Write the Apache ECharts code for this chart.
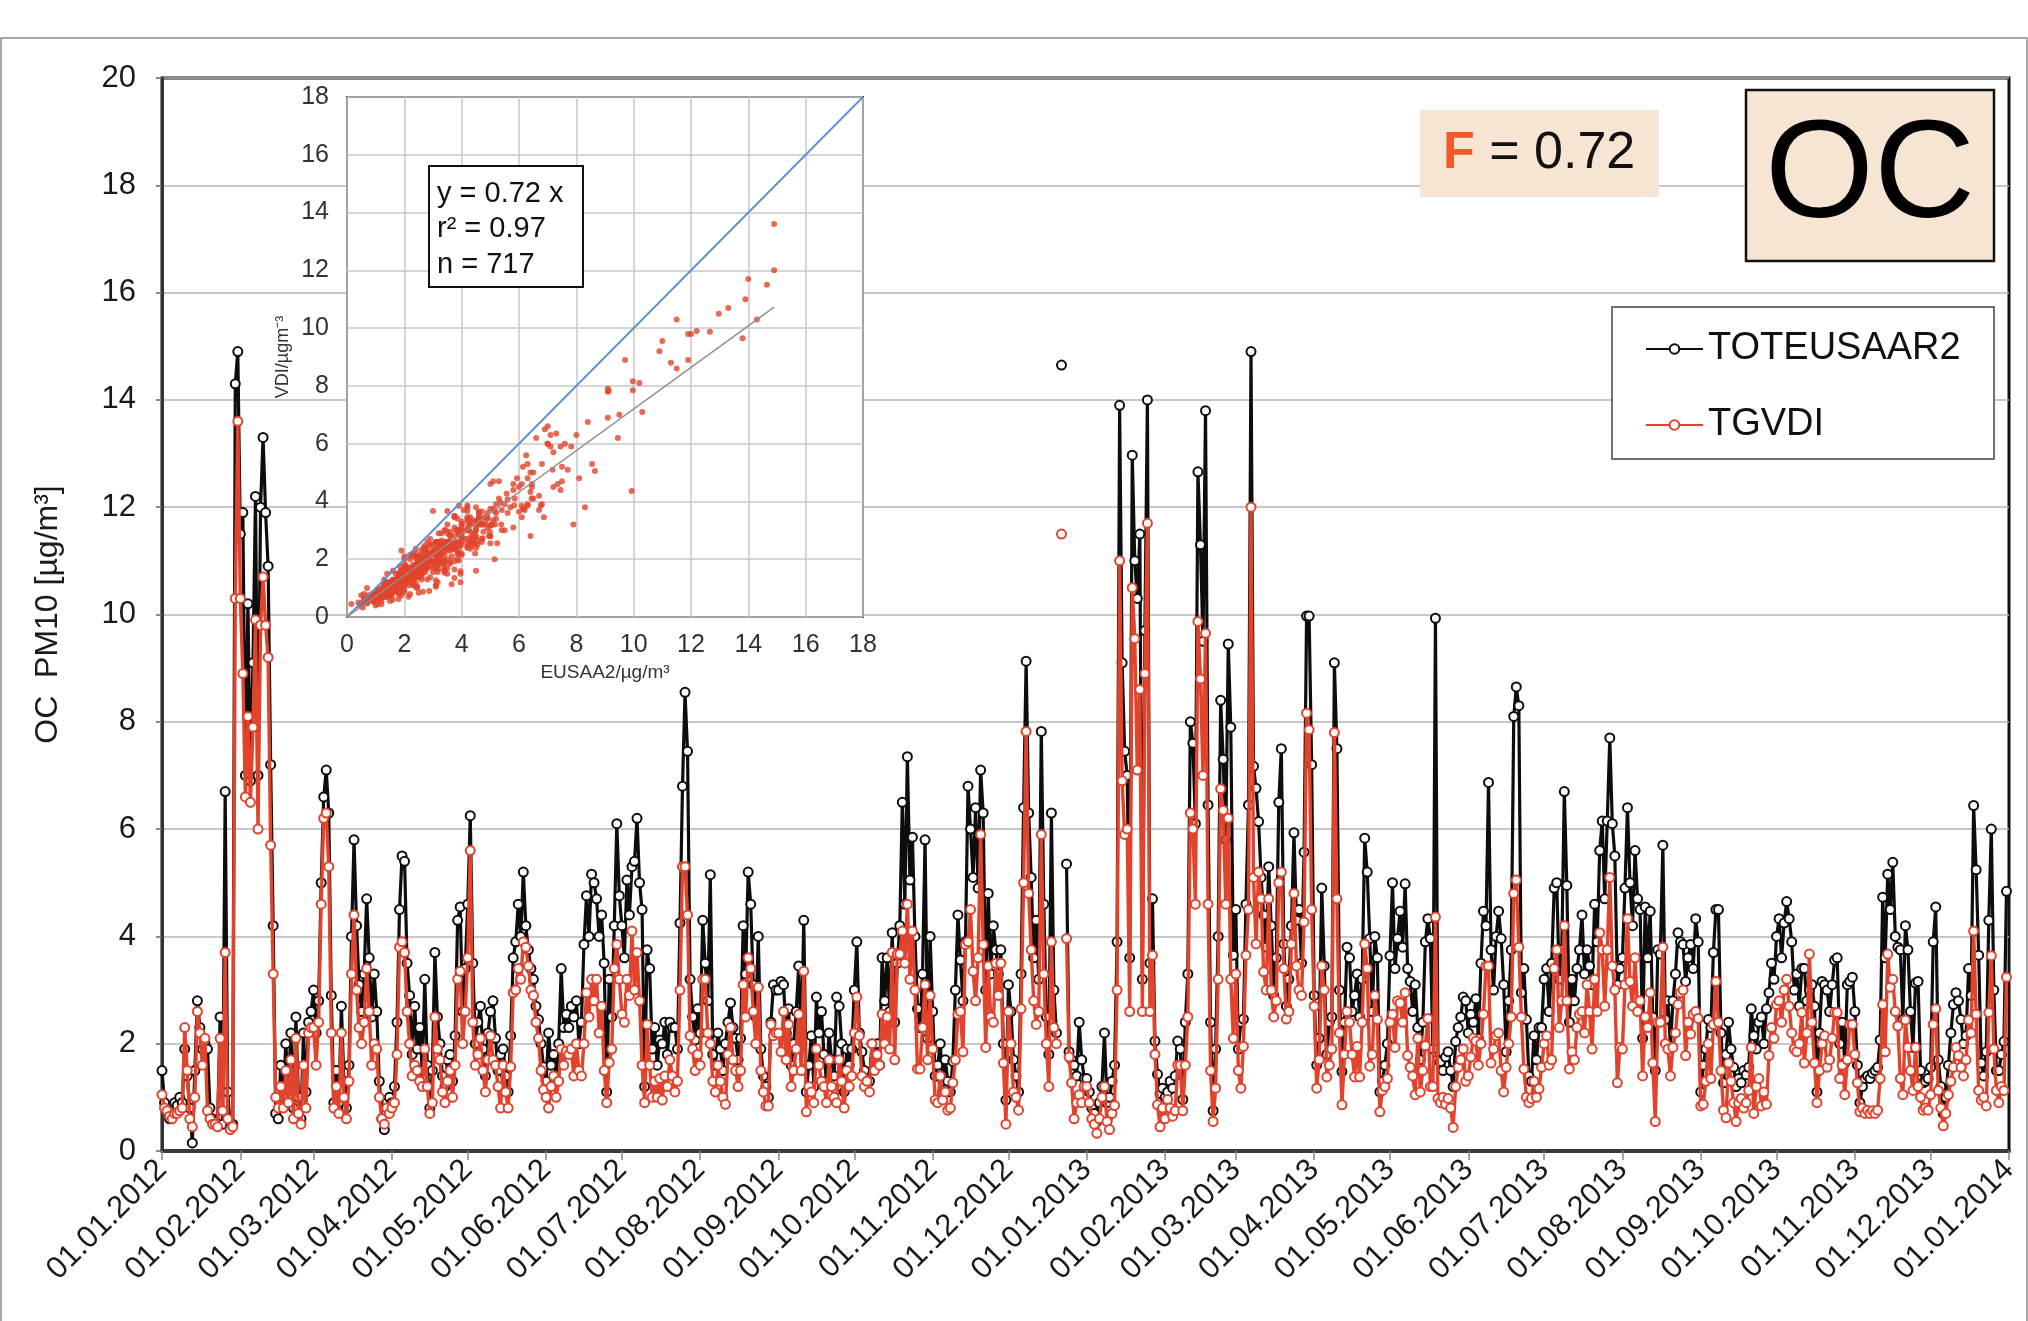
<!DOCTYPE html>
<html><head><meta charset="utf-8">
<script src="https://cdn.jsdelivr.net/npm/echarts@6/dist/echarts.min.js"></script>
<style>html,body{margin:0;padding:0;background:#fff}#c{width:2028px;height:1321px}</style>
</head><body><div id="c"></div>
<script>
// ---------------- DATA ----------------
const START = [2012, 0, 1];
const END = [2014, 0, 1];
const SERIES_NAMES = ['TOTEUSAAR2', 'TGVDI'];
const Y_TICKS = { min: 0, max: 20, interval: 2 };
const INSET_TICKS = { min: 0, max: 18, interval: 2 };
const FIT_SLOPE = 0.72;
const FIT_MAX_X = 14.9;
const FIT_TEXT = ['y = 0.72 x', 'r² = 0.97', 'n = 717'];
const F_TEXT = '0.72';
const COMPONENT = 'OC';

const TOTEUSAAR2 = [
// 2012-01
1.5,0.9,0.75,0.6,0.75,0.9,0.85,1.0,0.9,1.9,1.4,0.8,0.15,1.5,2.8,2.3,1.9,2.0,1.9,0.8,0.6,0.55,0.5,2.5,0.5,6.7,1.1,0.45,0.5,14.3,14.9,
// 2012-02
11.5,11.9,7.0,10.2,6.9,9.1,12.2,7.0,12.0,13.3,11.9,10.9,7.2,4.2,0.7,0.6,1.6,1.0,2.0,1.2,2.2,0.8,2.5,1.0,0.6,2.2,1.1,2.4,2.6,
// 2012-03
3.0,2.2,2.8,5.0,6.6,7.1,6.3,2.9,0.9,1.5,0.9,2.7,1.3,0.8,1.6,4.0,5.8,4.2,3.1,2.6,3.3,4.7,3.6,2.5,3.3,2.6,1.3,0.6,0.4,0.9,1.0,
// 2012-04
0.9,1.2,2.4,4.5,5.5,5.4,3.5,2.9,1.8,2.7,1.9,2.3,1.5,3.2,1.6,0.8,1.5,3.7,2.5,2.0,1.4,1.2,1.7,1.8,1.3,2.15,4.3,4.55,2.6,3.4,
// 2012-05
4.6,6.25,3.5,2.0,2.4,2.7,1.9,1.4,2.2,2.6,2.8,2.1,1.5,1.8,1.9,1.4,1.1,2.15,3.6,3.9,4.6,4.0,5.2,4.2,3.75,3.4,3.2,2.7,2.45,2.0,1.57,
// 2012-06
1.3,2.2,1.6,1.8,1.3,2.0,3.4,2.3,2.55,2.3,2.7,2.5,2.8,2.0,2.4,3.85,4.76,4.0,5.16,5.0,4.7,4.0,4.4,3.5,1.1,3.2,2.5,4.2,6.1,4.76,
// 2012-07
4.2,3.6,5.05,4.4,5.3,5.4,6.2,5.0,4.5,1.2,3.75,3.4,1.9,2.3,1.6,2.07,2.0,2.4,1.8,2.4,2.3,2.3,1.9,4.25,6.8,8.55,7.45,3.2,2.5,2.07,2.65,
// 2012-08
2.2,4.3,3.5,2.8,5.15,1.8,1.6,2.2,1.9,1.5,2.0,2.4,2.76,2.3,2.1,1.7,2.1,4.2,3.3,5.2,4.6,3.1,2.5,4.0,1.9,1.4,1.2,1.0,2.4,3.1,3.0,
// 2012-09
3.0,3.16,3.1,2.2,2.65,1.6,2.0,2.6,3.45,2.0,4.3,1.1,1.6,2.15,1.2,2.87,2.2,2.6,1.8,1.3,2.2,1.7,1.4,2.87,2.7,2.0,1.1,1.9,1.6,1.9,
// 2012-10
3.0,3.9,2.2,1.85,1.5,1.3,1.3,2.0,1.7,2.0,1.6,3.6,2.8,3.6,2.6,4.07,2.4,3.5,4.2,6.5,4.6,7.35,5.05,5.85,4.0,2.65,2.3,3.3,5.8,2.1,4.0,
// 2012-11
2.6,1.4,1.6,2.0,1.3,1.7,1.3,1.1,1.67,3.0,4.4,3.56,2.8,3.9,6.8,6.0,5.1,6.4,4.9,7.1,6.3,3.0,4.8,3.3,4.2,3.75,3.3,3.75,2.0,0.95,
// 2012-12
3.1,2.6,1.7,1.4,1.1,3.3,6.4,9.13,6.3,5.1,3.6,4.3,3.2,7.82,4.6,2.5,1.8,6.3,3.0,2.2,null,14.65,null,5.35,1.85,1.7,1.6,1.4,2.4,1.7,1.35,
// 2013-01
1.35,1.1,0.8,0.7,0.55,0.9,1.2,2.2,0.9,1.0,1.3,1.6,3.9,13.9,9.1,7.45,7.0,3.6,12.97,11.0,10.3,11.5,3.2,9.7,14.0,3.5,4.7,2.05,1.43,1.07,1.17,
// 2013-02
1.0,1.1,1.3,1.17,1.4,2.05,1.9,0.96,2.4,3.3,8.0,7.6,6.1,12.66,11.3,9.5,13.8,6.45,2.4,0.75,1.9,4.0,8.4,7.3,5.8,9.45,7.9,3.65,
// 2013-03
4.5,1.9,2.4,2.46,4.6,6.45,14.9,7.17,6.76,6.14,5.1,4.4,3.8,5.3,4.2,2.9,3.6,6.5,7.5,3.86,2.7,3.2,4.2,5.93,4.3,4.5,3.5,5.57,9.97,9.97,7.2,
// 2013-04
2.9,1.6,2.1,4.9,3.45,1.8,2.4,2.5,9.1,7.5,3.0,1.48,2.4,3.8,3.6,2.6,2.9,3.3,2.5,3.2,5.83,5.2,3.96,2.6,4.0,3.6,1.1,1.3,1.6,2.0,
// 2013-05
3.64,5.0,3.4,3.96,4.47,3.8,4.98,3.4,3.16,2.6,3.1,2.3,1.7,2.4,3.9,4.33,3.96,1.9,9.93,1.7,1.67,1.5,1.75,1.85,1.5,1.2,2.04,2.3,2.5,2.87,2.8,
// 2013-06
2.2,2.55,2.4,2.84,2.1,3.5,4.47,4.2,6.87,3.75,3.0,4.0,4.47,3.96,3.1,1.85,2.8,3.75,8.1,8.65,8.3,2.95,3.4,2.45,1.4,1.3,2.15,1.7,2.3,2.3,
// 2013-07
3.2,3.4,2.6,3.5,4.9,5.0,3.2,3.75,6.7,4.95,2.4,3.2,2.8,3.4,3.75,4.4,3.3,3.75,3.45,3.1,4.6,3.9,5.6,6.15,4.7,6.15,7.7,6.1,5.5,3.1,3.4,
// 2013-08
3.6,4.9,6.4,5.0,4.2,5.6,4.7,4.5,2.1,4.55,3.6,4.47,2.5,1.5,3.75,3.67,5.7,2.45,2.8,1.96,2.8,3.3,4.07,3.9,3.85,3.16,3.6,3.85,3.4,4.33,3.9,
// 2013-09
1.1,1.6,1.9,2.45,2.3,3.7,4.5,4.5,2.2,1.27,1.8,2.4,1.9,1.56,1.2,1.35,1.27,1.5,1.42,1.56,2.65,2.15,1.9,2.4,2.5,2.0,2.65,2.95,3.5,3.2,
// 2013-10
4.0,4.33,3.6,4.25,4.65,4.33,3.9,3.0,3.3,2.7,3.4,3.4,2.8,3.0,3.1,2.7,1.1,2.2,3.16,3.1,3.0,2.6,3.1,3.56,3.6,2.0,2.4,1.64,3.1,3.16,3.24,
// 2013-11
2.6,1.6,0.9,1.2,1.35,1.4,1.35,1.45,1.5,1.56,2.07,4.73,3.6,5.16,4.5,5.38,4.0,3.8,3.75,2.45,4.2,3.75,2.6,1.93,3.13,3.16,1.5,1.27,1.3,1.35,
// 2013-12
1.56,3.9,4.55,1.7,1.2,0.7,1.0,1.6,2.2,2.73,2.95,2.8,2.45,2.0,2.15,3.4,2.9,6.44,5.24,3.65,1.64,1.4,1.85,4.3,6.0,3.0,1.5,1.5,1.8,2.04,4.84
];

const TGVDI = [
// 2012-01
1.05,0.8,0.75,0.65,0.6,0.7,0.7,0.75,0.8,2.3,1.5,0.6,0.45,1.0,2.6,2.2,1.6,2.1,0.75,0.6,0.5,0.5,0.45,2.1,0.75,3.7,0.6,0.4,0.45,10.3,13.6,
// 2012-02
10.3,8.9,6.6,8.1,6.5,7.9,9.9,6.0,9.8,10.7,9.8,9.2,5.7,3.3,1.0,0.8,1.2,0.8,1.5,0.9,1.7,0.6,2.1,0.7,0.5,1.6,0.8,2.2,2.3,
// 2012-03
2.3,1.6,2.4,4.6,6.2,6.3,5.3,2.2,0.8,1.2,0.7,2.2,1.0,0.6,1.3,3.3,4.4,3.0,2.3,2.0,2.4,3.4,2.6,1.6,2.0,1.9,1.0,0.6,0.5,0.8,0.7,
// 2012-04
0.8,0.9,1.8,3.8,3.9,3.7,2.6,2.0,1.4,1.6,1.5,1.3,1.2,1.9,1.2,0.7,0.9,2.5,1.9,1.7,1.1,0.9,1.3,1.5,1.0,1.6,3.2,3.35,2.0,2.6,
// 2012-05
3.6,5.6,2.4,1.6,1.8,2.1,1.5,1.1,1.7,2.15,1.7,1.6,1.2,0.8,1.6,1.1,0.8,1.57,2.95,3.0,3.4,3.2,3.9,3.8,3.45,3.0,2.9,2.4,2.1,1.5,1.14,
// 2012-06
1.0,0.8,1.2,1.4,1.0,1.3,1.9,1.6,1.86,1.8,1.9,1.4,2.0,1.5,1.4,2.0,2.95,2.5,3.2,2.8,3.2,2.2,2.7,1.5,0.9,1.65,1.9,3.4,3.85,3.2,
// 2012-07
2.55,2.4,3.2,2.9,4.1,3.0,3.7,2.8,1.6,0.9,2.36,1.6,1.0,1.3,1.0,1.35,0.95,1.4,1.2,1.7,1.4,1.1,1.3,3.0,5.3,5.3,4.4,2.15,1.9,1.5,1.8,
// 2012-08
1.6,3.2,3.2,2.2,2.0,1.3,1.1,1.6,1.3,1.0,0.87,1.8,2.3,1.7,1.5,1.2,1.5,3.1,2.5,3.6,3.4,2.6,2.0,3.05,1.5,1.1,0.84,0.84,2.36,2.15,2.2,
// 2012-09
2.2,1.85,2.6,1.7,2.36,1.2,1.5,1.9,2.55,1.5,3.35,0.73,1.2,1.1,0.9,1.9,1.6,1.3,1.2,0.9,1.7,1.2,1.0,0.9,1.7,1.3,0.8,1.5,1.2,1.4,
// 2012-10
2.2,2.87,2.15,1.4,1.2,1.3,1.1,2.0,1.5,1.8,1.6,2.55,2.0,2.5,1.9,3.7,1.7,3.67,3.67,4.1,3.5,4.6,3.2,4.1,3.0,1.53,1.53,2.3,3.1,1.7,2.9,
// 2012-11
1.9,0.95,0.9,1.4,0.95,1.1,0.76,0.8,1.27,1.7,2.55,2.6,1.85,3.85,3.9,4.5,3.35,2.8,3.6,5.9,3.85,1.93,3.45,2.5,2.4,3.5,2.9,3.5,1.64,0.5,
// 2012-12
2.6,2.0,1.1,1.0,0.76,2.65,5.0,7.82,4.8,3.75,2.8,2.36,2.6,5.9,3.3,2.0,1.2,3.9,2.3,2.0,null,11.5,null,3.96,1.75,1.27,0.6,0.9,1.05,0.9,1.2,
// 2013-01
1.2,0.9,0.6,0.5,0.33,0.6,1.0,1.2,0.55,0.4,0.7,0.85,3.0,11.0,6.9,5.9,6.0,2.6,10.5,9.55,7.1,8.6,2.6,8.9,11.7,2.6,3.65,1.8,0.86,0.45,0.8,
// 2013-02
0.6,0.96,0.8,0.65,0.75,1.6,1.6,0.75,1.6,2.5,6.3,6.0,4.6,9.87,8.8,7.0,9.65,4.6,1.5,0.55,1.17,3.2,6.75,6.35,4.6,6.2,3.2,2.1,
// 2013-03
3.3,1.5,1.17,1.95,3.65,4.5,12.0,5.1,3.86,5.2,4.7,3.34,3.0,4.7,3.0,2.5,2.8,5.0,5.2,3.4,2.46,2.6,3.86,4.8,3.45,3.0,2.9,4.27,8.16,7.85,4.5,
// 2013-04
2.7,1.17,1.7,3.45,3.0,1.38,1.6,1.9,7.8,4.7,2.2,0.86,1.8,2.6,2.4,1.8,1.38,1.95,1.38,2.4,3.86,3.4,1.58,1.8,2.9,2.45,0.73,1.13,1.2,1.35,
// 2013-05
2.4,2.55,1.93,2.8,2.76,2.4,2.95,1.78,1.56,1.4,1.05,2.1,1.1,1.5,1.96,2.47,1.2,1.2,4.36,0.98,0.9,1.0,0.87,0.98,0.8,0.44,1.2,1.56,1.7,1.9,1.3,
// 2013-06
1.4,1.75,2.1,2.05,1.6,2.0,2.55,3.45,3.45,1.64,1.9,2.15,2.2,1.5,1.1,1.56,2.0,2.5,4.8,5.05,3.8,2.5,1.53,1.0,0.9,0.98,1.3,1.0,1.16,1.56,
// 2013-07
2.0,2.15,1.6,1.7,3.4,3.75,2.3,2.8,4.2,2.8,1.53,1.85,1.7,2.3,2.55,2.6,2.2,3.1,2.6,1.9,3.2,2.6,4.07,3.75,2.7,3.75,5.1,3.45,3.0,1.27,1.93,
// 2013-08
1.9,3.1,4.33,3.16,2.7,3.6,2.6,2.8,1.4,2.5,2.3,2.95,1.64,0.55,2.4,2.4,3.8,2.0,1.9,1.4,1.93,2.2,2.73,2.95,3.0,1.78,2.4,2.18,2.55,2.6,2.47,
// 2013-09
0.84,0.87,1.3,2.0,1.35,2.36,3.16,2.4,1.5,0.76,0.62,1.64,1.3,0.9,0.55,0.9,0.98,0.8,0.9,1.13,1.93,0.7,1.2,1.35,0.84,1.1,0.87,1.78,2.3,2.1,
// 2013-10
2.73,2.8,2.4,3.0,3.2,2.7,2.2,1.9,1.85,2.0,2.58,1.64,2.2,3.67,2.4,1.64,0.9,1.5,2.0,2.15,1.56,1.7,2.1,2.58,2.58,1.35,1.6,1.05,1.7,2.36,2.36,
// 2013-11
1.8,1.27,0.73,0.8,0.7,0.76,0.7,0.75,0.7,0.76,1.35,2.73,1.85,3.67,3.05,3.2,2.6,2.33,1.35,1.05,2.44,1.93,1.5,1.13,1.93,1.2,1.0,0.76,0.8,0.76,
// 2013-12
1.05,2.36,2.65,1.13,0.8,0.47,0.7,1.05,1.3,1.56,1.93,1.78,1.56,1.4,1.7,2.44,2.2,4.1,2.55,1.13,0.95,1.0,0.84,2.58,3.64,1.9,1.13,0.9,1.2,1.13,3.24
];

// ---------------- DERIVED ----------------
const categories = [];
for (let t = Date.UTC(...START); t <= Date.UTC(...END); t += 86400000) {
  const d = new Date(t);
  categories.push(String(d.getUTCDate()).padStart(2, '0') + '.' +
    String(d.getUTCMonth() + 1).padStart(2, '0') + '.' + d.getUTCFullYear());
}
const scatterPairs = [];
for (let i = 0; i < TOTEUSAAR2.length; i++) {
  if (TOTEUSAAR2[i] != null && TGVDI[i] != null) scatterPairs.push([TOTEUSAAR2[i], TGVDI[i]]);
}
const isMonthStart = (idx, val) => String(val).slice(0, 2) === '01';

const FONT = "'Liberation Sans', Arial, Helvetica, sans-serif";
const RED = '#e2432c';
const BLACK = '#0d0d0d';
const BEIGE = '#f6e5d3';

const chart = echarts.init(document.getElementById('c'), null, { renderer: 'canvas' });
chart.setOption({
  animation: false,
  backgroundColor: '#ffffff',
  textStyle: { fontFamily: FONT },
  grid: [
    { left: 162, top: 78, width: 1847, height: 1073, show: true, borderColor: '#111', borderWidth: 3, z: 0 },
    { left: 347, top: 97, width: 516, height: 520, show: true, backgroundColor: '#ffffff', borderColor: '#333', borderWidth: 2, z: 3 }
  ],
  xAxis: [
    {
      type: 'category', gridIndex: 0, data: categories, boundaryGap: false,
      axisLine: { lineStyle: { color: '#3a3a3a', width: 4 } },
      axisTick: { show: true, interval: isMonthStart, length: 9, lineStyle: { color: '#888', width: 1.5 } },
      axisLabel: { interval: isMonthStart, rotate: 45, fontSize: 31, color: '#1a1a1a', fontFamily: FONT, margin: 14 },
      splitLine: { show: false }
    },
    {
      type: 'value', gridIndex: 1, min: INSET_TICKS.min, max: INSET_TICKS.max, interval: INSET_TICKS.interval, z: 4,
      name: 'EUSAA2/µg/m³', nameLocation: 'middle', nameGap: 46,
      nameTextStyle: { fontSize: 19, color: '#333', fontFamily: FONT },
      axisLine: { show: false }, axisTick: { show: false },
      axisLabel: { fontSize: 25, color: '#333', fontFamily: FONT, margin: 16 },
      splitLine: { show: true, lineStyle: { color: '#c9c9c9', width: 1.5 } }
    }
  ],
  yAxis: [
    {
      type: 'value', gridIndex: 0, min: Y_TICKS.min, max: Y_TICKS.max, interval: Y_TICKS.interval,
      name: 'OC  PM10 [µg/m³]', nameLocation: 'middle', nameGap: 98, nameRotate: 90,
      nameTextStyle: { fontSize: 32, color: '#1a1a1a', fontFamily: FONT },
      axisLine: { show: true, lineStyle: { color: '#333', width: 3 } },
      axisTick: { show: true, length: 6, lineStyle: { color: '#666', width: 1.5 } },
      axisLabel: { fontSize: 31, color: '#1a1a1a', fontFamily: FONT, margin: 26 },
      splitLine: { show: true, lineStyle: { color: '#b5b5b5', width: 1.5 } }
    },
    {
      type: 'value', gridIndex: 1, min: INSET_TICKS.min, max: INSET_TICKS.max, interval: INSET_TICKS.interval, z: 4,
      name: 'VDI/µgm⁻³', nameLocation: 'middle', nameGap: 55, nameRotate: 90,
      nameTextStyle: { fontSize: 18, color: '#333', fontFamily: FONT },
      axisLine: { show: false }, axisTick: { show: false },
      axisLabel: { fontSize: 25, color: '#333', fontFamily: FONT, margin: 18 },
      splitLine: { show: true, lineStyle: { color: '#c9c9c9', width: 1.5 } }
    }
  ],
  legend: {
    orient: 'vertical', left: 1640, top: 324, itemWidth: 57, itemHeight: 12, itemGap: 36, z: 20,
    textStyle: { fontSize: 38, color: '#111', fontFamily: FONT, lineHeight: 40 },
    data: SERIES_NAMES
  },
  series: [
    {
      name: SERIES_NAMES[0], type: 'line', xAxisIndex: 0, yAxisIndex: 0, data: TOTEUSAAR2,
      symbol: 'emptyCircle', symbolSize: 9, showSymbol: true, showAllSymbol: true, connectNulls: false,
      lineStyle: { color: BLACK, width: 3.2 }, itemStyle: { color: BLACK, borderWidth: 2.2 }, z: 2
    },
    {
      name: SERIES_NAMES[1], type: 'line', xAxisIndex: 0, yAxisIndex: 0, data: TGVDI,
      symbol: 'emptyCircle', symbolSize: 9, showSymbol: true, showAllSymbol: true, connectNulls: false,
      lineStyle: { color: RED, width: 3.4 }, itemStyle: { color: RED, borderWidth: 2.2 }, z: 3
    },
    {
      name: 'inset', type: 'scatter', xAxisIndex: 1, yAxisIndex: 1, data: scatterPairs,
      symbol: 'circle', symbolSize: 6, itemStyle: { color: RED }, z: 5, silent: true
    },
    {
      name: '1:1', type: 'line', xAxisIndex: 1, yAxisIndex: 1,
      data: [[INSET_TICKS.min, INSET_TICKS.min], [INSET_TICKS.max, INSET_TICKS.max]],
      symbol: 'none', lineStyle: { color: '#5b8fd0', width: 1.8 }, z: 6, silent: true
    },
    {
      name: 'fit', type: 'line', xAxisIndex: 1, yAxisIndex: 1,
      data: [[0, 0], [FIT_MAX_X, FIT_SLOPE * FIT_MAX_X]],
      symbol: 'none', lineStyle: { color: '#8f8f8f', width: 1.5 }, z: 7, silent: true
    }
  ],
  graphic: [
    { type: 'rect', z: 0, silent: true, shape: { x: 1, y: 38, width: 2026, height: 1300 },
      style: { fill: 'none', stroke: '#a8a8a8', lineWidth: 2 } },
    // inset fit text box
    { type: 'rect', z: 30, shape: { x: 429, y: 166, width: 154, height: 121 },
      style: { fill: '#fff', stroke: '#111', lineWidth: 2 } },
    { type: 'text', z: 31, x: 437, y: 194, style: { text: FIT_TEXT[0], fontSize: 29, fontFamily: FONT, fill: '#111', verticalAlign: 'middle' } },
    { type: 'text', z: 31, x: 437, y: 229, style: { text: FIT_TEXT[1], fontSize: 29, fontFamily: FONT, fill: '#111', verticalAlign: 'middle' } },
    { type: 'text', z: 31, x: 437, y: 265, style: { text: FIT_TEXT[2], fontSize: 29, fontFamily: FONT, fill: '#111', verticalAlign: 'middle' } },
    // F box
    { type: 'rect', z: 30, shape: { x: 1420, y: 110, width: 239, height: 87 }, style: { fill: BEIGE } },
    { type: 'text', z: 31, x: 1443, y: 154, style: {
        text: '{f|F} = ' + F_TEXT, fontSize: 52, fontFamily: FONT, fill: '#111', verticalAlign: 'middle',
        rich: { f: { fontSize: 52, fontWeight: 'bold', fill: '#f05a28', fontFamily: FONT } } } },
    // OC box
    { type: 'rect', z: 30, shape: { x: 1746, y: 90, width: 248, height: 171 }, style: { fill: BEIGE, stroke: '#111', lineWidth: 2.5 } },
    { type: 'text', z: 31, x: 1870, y: 178, style: { text: COMPONENT, fontSize: 140, fontFamily: FONT, fill: '#000', align: 'center', verticalAlign: 'middle' } },
    // legend frame
    { type: 'rect', z: 15, shape: { x: 1612, y: 307, width: 382, height: 152 }, style: { fill: '#fff', stroke: '#444', lineWidth: 1.5 } }
  ]
});
</script>
</body></html>
